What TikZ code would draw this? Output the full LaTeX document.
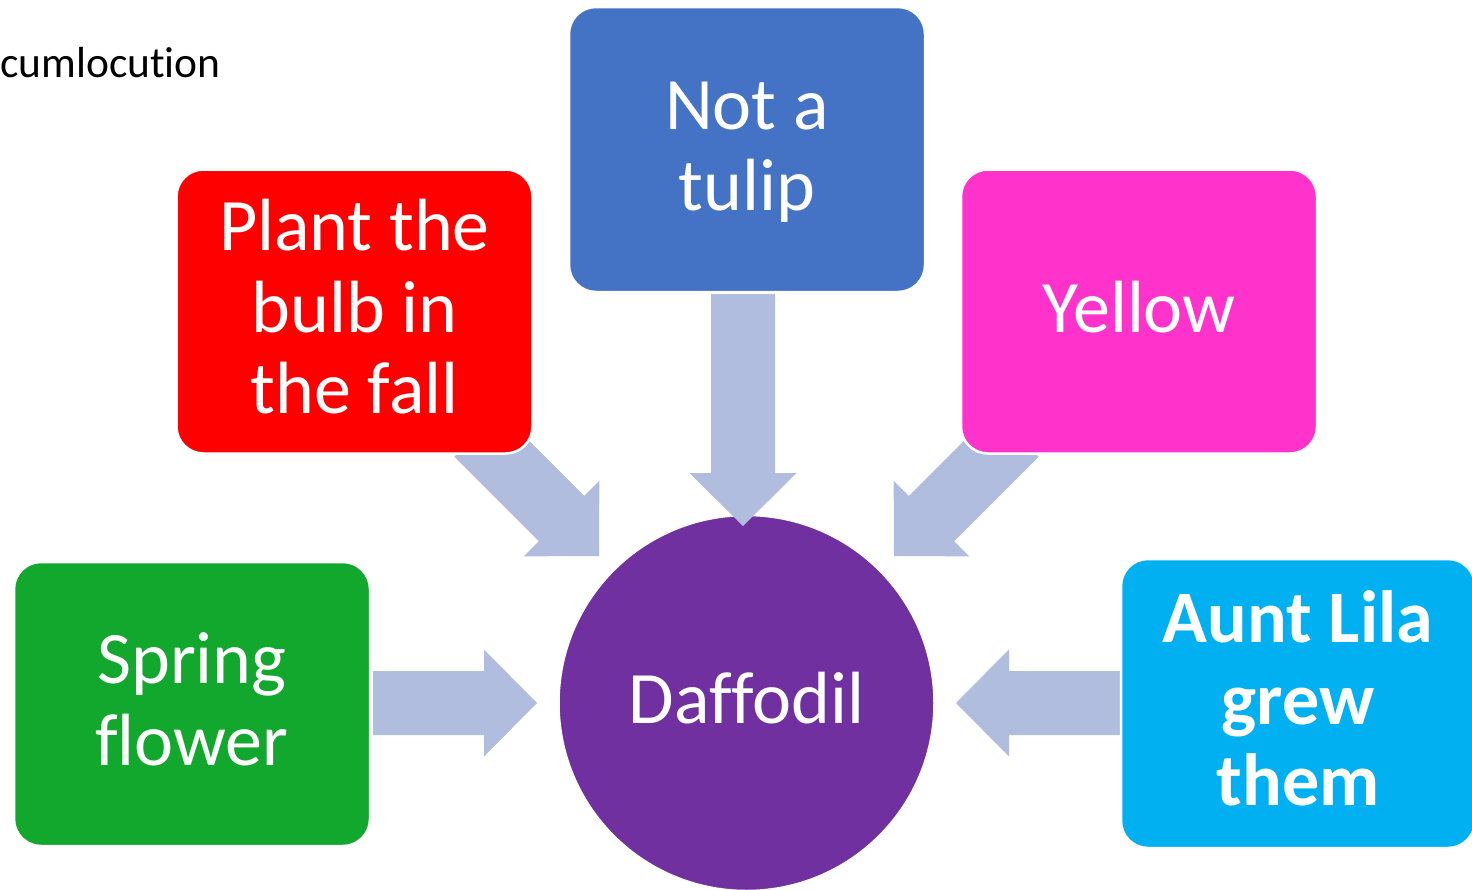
\documentclass[tikz,border=0pt]{standalone}
\usepackage{fontspec}
\setmainfont{Carlito}[Ligatures=NoCommon]

\definecolor{redbox}{RGB}{255,0,0}
\definecolor{bluebox}{RGB}{68,114,196}
\definecolor{pinkbox}{RGB}{255,51,204}
\definecolor{greenbox}{RGB}{17,168,45}
\definecolor{cyanbox}{RGB}{0,176,240}
\definecolor{centrefill}{RGB}{112,48,160}
\definecolor{arrowfill}{RGB}{176,189,222}

% large label type and a fixed-height line strut
\newcommand\bigtext{\fontsize{74}{81.5}\selectfont}
\newcommand\ls{\rule[-17.5pt]{0pt}{76pt}}

% block arrow: tip at #1, pointing at angle #2, total length #3
\newcommand\inflow[3]{%
  \begin{scope}[shift={(#1)}, rotate=#2]
    \fill[arrowfill] (0,0) -- (-53,53.5) -- (-53,32) -- (-#3,32)
      -- (-#3,-32) -- (-53,-32) -- (-53,-53.5) -- cycle;
  \end{scope}}

\begin{document}
\begin{tikzpicture}[x=1pt, y=-1pt,
  every node/.style={inner sep=0pt},
  card/.style={rectangle, rounded corners=27pt, draw=white, line width=2.5pt,
    minimum width=356pt, minimum height=284pt, text=white, align=center,
    font=\bigtext},
  hub/.style={circle, fill=centrefill, draw=white, line width=1.5pt,
    minimum size=375pt, text=white, font=\bigtext}]

\fill[white] (0,0) rectangle (1472,889);
\useasboundingbox (0,0) rectangle (1472,889);

% heading fragment
\node[anchor=base west, font=\fontsize{43.5}{50}\selectfont] (head) at (0,77) {cumlocution};

% central circle
\node[hub] (daffodil) at (746.5,703) {\ls Daffodil};

% arrow tips
\coordinate (tipW)  at (537,703);
\coordinate (tipE)  at (956,703);
\coordinate (tipN)  at (743,526);
\coordinate (tipNW) at (599,556);
\coordinate (tipNE) at (894,556);

% block arrows pointing at the centre
\inflow{tipW}{0}{164}
\inflow{tipE}{180}{164}
\inflow{tipN}{-90}{232}
\inflow{tipNW}{-45}{172.5}
\inflow{tipNE}{-135}{172.5}

% surrounding cards
\node[card, fill=redbox] (plant) at (354.5,311.5)
  {\ls Plant the\\\ls bulb in\\\ls the fall};
\node[card, fill=bluebox, minimum height=285pt] (tulip) at (747,149.5)
  {\ls Not a\\\ls tulip};
\node[card, fill=pinkbox] (yellow) at (1139,311.5) {\ls Yellow};
\node[card, fill=greenbox] (spring) at (192,704)
  {\ls Spring\\\ls flower};
\node[card, fill=cyanbox, minimum width=354pt, minimum height=289pt,
  font=\bigtext\bfseries] (aunt) at (1298,703.5)
  {\ls Aunt Lila\\\ls grew\\\ls them};

\end{tikzpicture}
\end{document}
